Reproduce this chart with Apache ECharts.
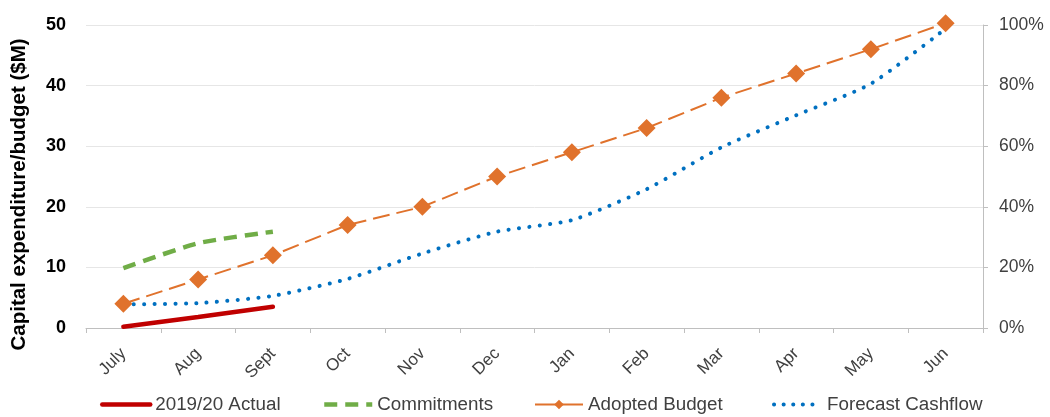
<!DOCTYPE html>
<html><head><meta charset="utf-8">
<script src="https://cdn.jsdelivr.net/npm/echarts@6/dist/echarts.min.js"></script>
<style>html,body{margin:0;padding:0;background:#fff}#c{width:1050px;height:417px}</style>
</head><body><div id="c"></div>
<script>
const months = ["July","Aug","Sept","Oct","Nov","Dec","Jan","Feb","Mar","Apr","May","Jun"];
const actual = [0.2, 1.8, 3.5];
const commitments = [9.9, 14, 15.9];
const adoptedBudget = [4, 8, 12, 17, 20, 25, 29, 33, 38, 42, 46, 50.3];
const forecastCashflow = [3.9, 4.1, 5.3, 8.1, 12.3, 15.9, 17.8, 22.9, 29.8, 35.1, 40.3, 49.4];
const leftTicks = [0, 10, 20, 30, 40, 50];
const rightTicks = [0, 20, 40, 60, 80, 100];
const seriesNames = ['2019/20 Actual', 'Commitments', 'Adopted Budget', 'Forecast Cashflow'];

const font = "Liberation Sans, Arial, sans-serif";
const hidden = {opacity: 0};
const legendLeft = [95, 317, 529, 767];
const legendItem = [
  {name: seriesNames[0], itemStyle: hidden, lineStyle: {width: 4.5}},
  {name: seriesNames[1], itemStyle: hidden, lineStyle: {width: 4.5, type: [13, 8]}},
  {name: seriesNames[2], itemStyle: {}, lineStyle: {width: 2, type: 'solid'}},
  {name: seriesNames[3], itemStyle: hidden, lineStyle: {width: 4, type: [0.1, 9.5], cap: 'round'}}
];
const chart = echarts.init(document.getElementById('c'));
chart.setOption({
  animation: false,
  textStyle: {fontFamily: font},
  grid: {left: 86, right: 67, top: 25, bottom: 89},
  legend: legendItem.map((d, i) => ({
    top: 390, left: legendLeft[i], itemWidth: 48, itemHeight: 12,
    textStyle: {fontSize: 18.8, color: '#404040', fontFamily: font},
    data: [d]
  })),
  xAxis: {
    type: 'category', data: months, boundaryGap: true,
    axisLine: {lineStyle: {color: '#bfbfbf', width: 1}},
    axisTick: {show: true, alignWithLabel: false, length: 5, lineStyle: {color: '#bfbfbf'}},
    axisLabel: {rotate: 45, fontSize: 17, color: '#404040', margin: 23}
  },
  yAxis: [{
    type: 'value', min: 0, max: 50, interval: 10,
    name: 'Capital expenditure/budget ($M)', nameLocation: 'middle', nameGap: 56,
    nameTextStyle: {fontSize: 20.5, fontWeight: 'bold', color: '#000', padding: [0, 36, 0, 0]},
    axisLine: {show: false}, axisTick: {show: false},
    axisLabel: {fontSize: 18, fontWeight: 'bold', color: '#000', margin: 20,
      formatter: v => leftTicks.includes(v) ? String(v) : ''},
    splitLine: {lineStyle: {color: '#e6e6e6', width: 1}}
  }, {
    type: 'value', min: 0, max: 100, interval: 20, position: 'right',
    axisLine: {show: true, lineStyle: {color: '#bfbfbf'}},
    axisTick: {show: true, length: 5, lineStyle: {color: '#bfbfbf'}},
    axisLabel: {fontSize: 17.5, color: '#404040', margin: 16,
      formatter: v => rightTicks.includes(v) ? v + '%' : ''},
    splitLine: {show: false}
  }],
  series: [{
    name: seriesNames[0], type: 'line', data: actual, symbol: 'none',
    lineStyle: {color: '#C00000', width: 4.5, cap: 'round'}, itemStyle: {color: '#C00000'}
  }, {
    name: seriesNames[1], type: 'line', data: commitments, symbol: 'none', smooth: 0.2,
    lineStyle: {color: '#70AD47', width: 4.5, type: [13, 8]}, itemStyle: {color: '#70AD47'}
  }, {
    name: seriesNames[2], type: 'line', data: adoptedBudget, symbol: 'diamond', symbolSize: 18, clip: false,
    lineStyle: {color: '#E0722C', width: 2, type: [17, 7]}, itemStyle: {color: '#E0722C'}
  }, {
    name: seriesNames[3], type: 'line', data: forecastCashflow, symbol: 'none', smooth: 0.2, z: 1, clip: false,
    lineStyle: {color: '#0070C0', width: 4, type: [0.1, 10.3], cap: 'round'}, itemStyle: {color: '#0070C0'}
  }]
});
</script></body></html>
